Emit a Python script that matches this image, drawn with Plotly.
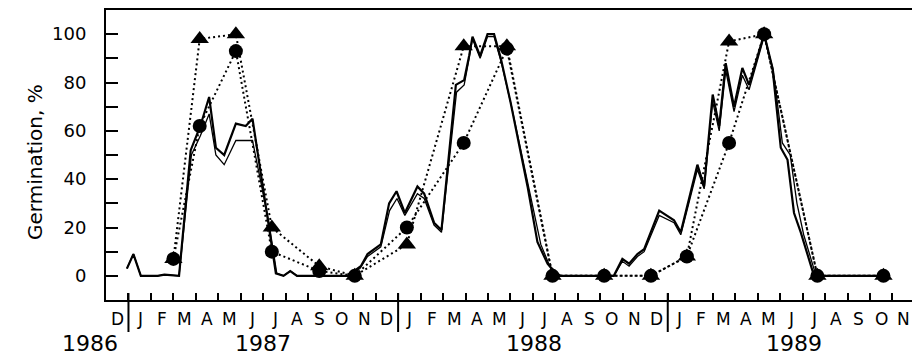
import plotly.graph_objects as go

# time axis: months since 1 Dec 1986
months = ["D", "J", "F", "M", "A", "M", "J", "J", "A", "S", "O", "N"] * 3
years = ["1986", "1987", "1988", "1989"]
year_pos = [-0.7, 7.0, 19.05, 30.6]          # month position of year labels
year_starts = [1, 13, 25]                     # January boundaries

# solid series A (thick)
tA = [0.93, 1.22, 1.55, 2.3, 2.6, 3.25, 3.77, 4.2, 4.59, 4.89, 5.26, 5.78, 6.22, 6.52,
      7.19, 7.56, 7.9, 8.2, 8.5, 10.75, 11.34, 11.64, 12.23, 12.6, 12.93, 13.3, 13.86,
      14.16, 14.6, 14.93, 15.57, 15.94, 16.16, 16.31, 16.65, 16.98, 17.27, 17.57, 18.0,
      18.76, 19.2, 19.65, 20.1, 22.6, 22.98, 23.28, 23.65, 23.95, 24.62, 25.28, 25.58,
      26.32, 26.62, 27.0, 27.29, 27.58, 27.95, 28.32, 28.62, 29.29, 29.66, 30.03, 30.33,
      30.62, 30.92, 31.51, 34.6]
gA = [3, 9, 0, 0, 0.5, 0, 52, 62, 74, 53, 50, 63, 62, 65,
      24, 1, 0, 2, 0, 0, 4, 9, 13, 30, 35, 26, 37,
      34, 22, 19, 79, 81, 91, 99, 91, 100, 100, 90, 72,
      37, 14, 5, 0, 0, 7, 5, 9, 11, 27, 23, 18,
      46, 37, 75, 62, 88, 70, 86, 79, 100, 86, 53, 48,
      26, 18, 0, 0]

# solid series B (thin)
tB = [0.93, 1.22, 1.55, 2.3, 2.6, 3.25, 3.8, 4.2, 4.59, 4.89, 5.26, 5.78, 6.22, 6.52,
      7.25, 7.6, 7.9, 8.2, 8.5, 10.75, 11.3, 11.64, 12.23, 12.62, 12.95, 13.3, 13.86,
      14.16, 14.6, 14.93, 15.6, 15.94, 16.16, 16.31, 16.65, 16.98, 17.27, 17.6, 18.05,
      18.85, 19.35, 19.75, 20.24, 22.6, 22.98, 23.28, 23.65, 23.95, 24.62, 25.28, 25.58,
      26.32, 26.62, 27.0, 27.29, 27.58, 27.95, 28.32, 28.62, 29.29, 29.7, 30.1, 30.45,
      30.75, 31.05, 31.6, 34.6]
gB = [3, 9, 0, 0, 0.5, 0, 50, 58, 67, 50, 46, 56, 56, 56,
      22, 1, 0, 2, 0, 0, 3, 8, 12, 27, 32, 25, 34,
      32, 21, 18, 76, 79, 90, 98, 90, 99, 99, 88, 70,
      35, 13, 4, 0, 0, 6, 4, 8, 10, 25, 22, 17,
      44, 36, 72, 60, 85, 68, 83, 77, 99, 85, 55, 50,
      30, 17, 0, 0]

# sampled series (dotted, markers)
tS = [3.0, 4.17, 5.78, 7.38, 9.49, 11.07, 13.39, 15.92, 17.84, 19.87, 22.17, 24.25,
      25.85, 27.73, 29.29, 31.66, 34.6]
circ = [7, 62, 93, 10, 2, 0, 20, 55, 94, 0, 0, 0, 8, 55, 100, 0, 0]
tri = [7, 98, 100, 20, 4, 0, 13, 95, 95, 0, 0, 0, 8, 97, 100, 0, 0]

FONT = "DejaVu Sans"
X_MAX = 35.87

fig = go.Figure()
fig.add_trace(go.Scatter(x=tS, y=tri, mode="lines+markers",
                         line=dict(color="black", width=2, dash="2px,3px"),
                         marker=dict(symbol="triangle-up", size=16, color="black")))
fig.add_trace(go.Scatter(x=tS, y=circ, mode="lines+markers",
                         line=dict(color="black", width=2, dash="2px,3px"),
                         marker=dict(symbol="circle", size=14, color="black")))
fig.add_trace(go.Scatter(x=tB, y=gB, mode="lines", line=dict(color="black", width=1.3)))
fig.add_trace(go.Scatter(x=tA, y=gA, mode="lines", line=dict(color="black", width=2.2)))

L, R, T, B = 106, 0, 10, 57
W, H = 912, 357
pw, ph = W - L - R, H - T - B

annotations = []
for i, m in enumerate(months):
    annotations.append(dict(x=i + 0.5, y=-19 / ph, xref="x", yref="paper", text=m,
                            showarrow=False, yanchor="middle", xanchor="center",
                            font=dict(family=FONT, size=17, color="black")))
for yl, yp in zip(years, year_pos):
    annotations.append(dict(x=yp / X_MAX, y=-43 / ph, xref="paper", yref="paper", text=yl,
                            showarrow=False, yanchor="middle", xanchor="center",
                            font=dict(family=FONT, size=22, color="black")))
annotations.append(dict(x=(35 - L) / pw, y=(300 - 162) / ph, xref="paper", yref="paper",
                        text="Germination, %", textangle=-90, showarrow=False,
                        xanchor="center", yanchor="middle",
                        font=dict(family=FONT, size=20, color="black")))

shapes = [dict(type="line", xref="x", yref="paper", x0=s, x1=s, y0=7 / ph, y1=-32 / ph,
               line=dict(color="black", width=2)) for s in year_starts]

fig.update_layout(
    width=W, height=H, margin=dict(l=L, r=R, t=T, b=B),
    paper_bgcolor="white", plot_bgcolor="white", showlegend=False,
    annotations=annotations, shapes=shapes,
    xaxis=dict(range=[0, X_MAX], showgrid=False, zeroline=False, showline=True,
               linecolor="black", linewidth=2, mirror=True,
               tickvals=list(range(1, 36)), ticks="inside", ticklen=7, tickwidth=1.5,
               tickcolor="black", showticklabels=False),
    yaxis=dict(range=[-10, 110], showgrid=False, zeroline=False, showline=True,
               linecolor="black", linewidth=2, tick0=0, dtick=20,
               ticks="inside", ticklen=12, tickwidth=2, tickcolor="black",
               ticklabelstandoff=14,
               tickfont=dict(family=FONT, size=18, color="black"),
               minor=dict(dtick=10, ticks="inside", ticklen=12, tickwidth=2,
                          tickcolor="black")),
)

fig.write_html("out.html", config={"displayModeBar": False})
